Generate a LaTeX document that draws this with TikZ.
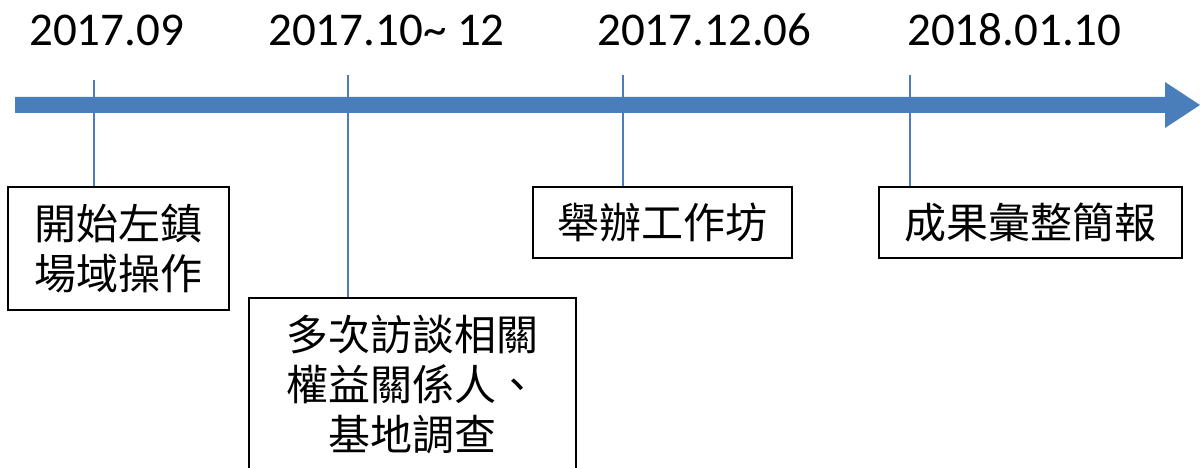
\documentclass[tikz,border=0pt]{standalone}
\usepackage{fontspec}
\setmainfont{Carlito}
\newfontfamily\cjk{Noto Sans CJK TC}
\definecolor{barblue}{HTML}{4A7EBB}
\tikzset{
  datelabel/.style={anchor=base west, inner sep=0pt, font=\fontsize{47}{56}\selectfont},
  eventbox/.style={draw=black, line width=2pt, inner sep=0pt, align=center,
    font=\cjk\fontsize{42}{50}\selectfont},
  tickline/.style={draw=barblue, line width=2pt},
  timebar/.style={fill=barblue, draw=none}
}
\begin{document}
\begin{tikzpicture}[x=1pt,y=-1pt]
\useasboundingbox (0,0) rectangle (1200,468);
\clip (0,0) rectangle (1200,468);
\fill[white] (0,0) rectangle (1200,468);
% bar arrow
\path[timebar] (15,97) -- (1165,97) -- (1165,82) -- (1200,105) -- (1165,128) -- (1165,113) -- (15,113) -- cycle;
% dates
\node[datelabel] (d1) at (29,46) {2017.09};
\node[datelabel] (d2) at (268,46) {2017.10\char`\~{} 12};
\node[datelabel] (d3) at (597,46) {2017.12.06};
\node[datelabel] (d4) at (907,46) {2018.01.10};
% boxes
\node[eventbox, minimum width=221pt, minimum height=123pt] (b1) at (118.5,248.5) {開始左鎮\\場域操作};
\node[eventbox, minimum width=327pt, minimum height=172pt] (b2) at (412.5,384) {多次訪談相關\\權益關係人、\\基地調查};
\node[eventbox, minimum width=259pt, minimum height=71pt] (b3) at (662.5,222.5) {舉辦工作坊};
\node[eventbox, minimum width=303pt, minimum height=71pt] (b4) at (1030.5,222.5) {成果彙整簡報};
% ticks
\coordinate (t1) at (94,80);
\coordinate (t2) at (348,75);
\coordinate (t3) at (623,75);
\coordinate (t4) at (910,75);
\draw[tickline] (t1) -- (t1 |- b1.north);
\draw[tickline] (t2) -- (t2 |- b2.north);
\draw[tickline] (t3) -- (t3 |- b3.north);
\draw[tickline] (t4) -- (t4 |- b4.north);
\end{tikzpicture}
\end{document}
